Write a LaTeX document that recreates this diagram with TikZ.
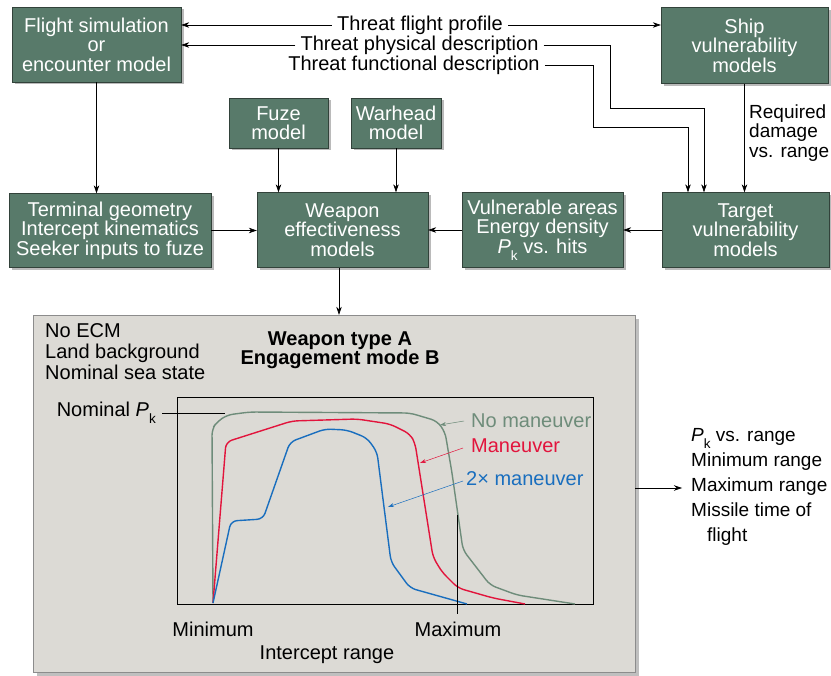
\documentclass[tikz,border=0pt]{standalone}
\usepackage{fontspec}
\setmainfont{Liberation Sans}
\usepackage{xcolor}
\usepackage{tikz}
\usetikzlibrary{shadows,arrows,arrows.meta,shapes,positioning}
\definecolor{boxgreen}{RGB}{88,122,106}
\definecolor{boxedge}{RGB}{50,66,58}
\definecolor{panelgray}{RGB}{220,218,213}
\definecolor{nomancol}{RGB}{110,140,122}
\definecolor{mancol}{RGB}{226,20,60}
\definecolor{twomancol}{RGB}{25,110,190}
\tikzset{
  model/.style={draw=boxedge, fill=boxgreen, text=white, align=center, inner sep=1pt,
    drop shadow={shadow xshift=2.5pt, shadow yshift=-2.5pt, opacity=0.45, fill=black!60}},
  panelbox/.style={draw=black!45, fill=panelgray, inner sep=0pt,
    drop shadow={shadow xshift=4pt, shadow yshift=-4pt, opacity=0.5, fill=black!50}},
  link/.style={-{Stealth[length=8pt,width=5.5pt]}, line width=0.6pt},
  thinlink/.style={-{Stealth[length=6pt,width=4pt]}, line width=0.5pt},
  curve/.style={line width=1.4pt, rounded corners=6pt}
}
\newcommand{\Pk}{\textit{P}\raisebox{-0.35em}{\fontsize{13.5}{13.5}\selectfont k}}

\begin{document}
\begin{tikzpicture}[
        x=1pt, y=-1pt,
        font=\fontsize{20}{19.5}\selectfont
    ]
        \useasboundingbox (0,0) rectangle (831,676);

        % Model boxes
        \node[model, minimum width=169pt, minimum height=75pt] (sim) at (96.5,44.5) {Flight simulation\\or\\encounter model};
        \node[model, minimum width=167pt, minimum height=76pt] (ship) at (744.5,45.5) {Ship\\vulnerability\\models};
        \node[model, minimum width=99pt, minimum height=50pt] (fuze) at (278.5,123) {Fuze\\model};
        \node[model, minimum width=90pt, minimum height=50pt] (warhead) at (396,123) {Warhead\\model};
        \node[model, minimum width=202pt, minimum height=74pt] (term) at (110,230.5) {Terminal geometry\\Intercept kinematics\\Seeker inputs to fuze};
        \node[model, minimum width=171pt, minimum height=75pt] (weapon) at (342.5,230) {Weapon\\effectiveness\\models};
        \node[model, minimum width=161pt, minimum height=75pt] (vuln) at (542.5,230) {Vulnerable areas\\Energy density\\\Pk{} vs. hits};
        \node[model, minimum width=167pt, minimum height=75pt] (target) at (745.5,230) {Target\\vulnerability\\models};

        % Threat inputs
        \node[inner sep=5pt] (flight) at (420,25) {Threat flight profile};
        \node[inner sep=5pt] (phys) at (419.5,45) {Threat physical description};
        \node[inner sep=5pt] (func) at (414,65) {Threat functional description};
        \node[align=left, anchor=west, inner sep=0pt, font=\fontsize{19}{19.5}\selectfont] (dmg) at (749,133) {Required\\damage\\vs. range};

        % Connect boxes
        \draw[link] (flight.west) -- (sim.east |- flight.west);
        \draw[link] (flight.east) -- (ship.west |- flight.east);
        \draw[link] (phys.west) -- (sim.east |- phys.west);
        \draw[link] (phys.east) -| (610,108) -| ([xshift=-41.5pt]target.north);
        \draw[link] (func.east) -| (593,127) -| ([xshift=-57.5pt]target.north);
        \draw[link] (ship.south) -- (ship.south |- target.north);
        \draw[link] (sim.south) -- (sim.south |- term.north);
        \draw[link] (fuze.south) -- (fuze.south |- weapon.north);
        \draw[link] (warhead.south) -- (warhead.south |- weapon.north);
        \draw[link] (term.east) -- (weapon.west |- term.east);
        \draw[link] (vuln.west) -- (weapon.east |- vuln.west);
        \draw[link] (target.west) -- (vuln.east |- target.west);

        % Result panel
        \node[panelbox, minimum width=602pt, minimum height=357pt] (panel) at (334,493.5) {};
        \draw[link] ([xshift=-3.5pt]weapon.south) -- ([xshift=-3.5pt]weapon.south |- panel.north);
        \node[align=left, anchor=north west, inner sep=0pt, font=\fontsize{20}{21}\selectfont] (cond) at (45,323) {No ECM\\Land background\\Nominal sea state};
        \node[align=center, font=\fontsize{20}{19.5}\selectfont\bfseries] (title) at (340,350) {Weapon type A\\Engagement mode B};

        % Pk curves
        \draw[line width=0.6pt] (177,397) rectangle (593,604);
        \draw[nomancol, curve] (213,603) -- (212,429) -- (217,422) -- (227,415) -- (250,412) -- (410,413) -- (437,421) -- (445,432) -- (452,473) -- (463,550) -- (490,585) -- (517,595) -- (575,604);
        \draw[mancol, curve] (213,603) -- (226,442) -- (292,421) -- (357,419) -- (390,424) -- (410,434) -- (415,443) -- (433,557) -- (442,572) -- (458,588) -- (493,598) -- (525,604);
        \draw[twomancol, curve] (213,603) -- (231,521) -- (263,519) -- (290,442) -- (325,429) -- (347,430) -- (367,438) -- (377,452) -- (391,562) -- (410,588) -- (467,604);
        \draw[line width=0.6pt] (457,515) -- (457,614);

        % Curve labels
        \node[anchor=west, inner sep=1pt, text=nomancol] (nomv) at (470,421) {No maneuver};
        \node[anchor=west, inner sep=1pt, text=mancol] (manv) at (470,446) {Maneuver};
        \node[anchor=west, inner sep=1pt, text=twomancol] (twomanv) at (465,479) {2× maneuver};
        \coordinate (nomvtip) at (440,425);
        \coordinate (manvtip) at (420,463);
        \coordinate (twomanvtip) at (388,507);
        \draw[thinlink, nomancol] ([xshift=-6pt]nomv.west) -- (nomvtip);
        \draw[thinlink, mancol] ([xshift=-7pt,yshift=-2pt]manv.west) -- (manvtip);
        \draw[thinlink, twomancol] ([xshift=-2pt,yshift=-2pt]twomanv.west) -- (twomanvtip);

        % Axis labels
        \node[anchor=east, inner sep=0pt] (nom) at (156,413) {Nominal \Pk};
        \coordinate (nomtip) at (225,413);
        \draw[line width=0.6pt] ([xshift=6pt]nom.east) -- (nomtip);
        \node (minl) at (213,629) {Minimum};
        \node (maxl) at (458,629) {Maximum};
        \node (xlab) at (327,655) {Intercept range};

        % Outputs
        \coordinate (out) at (682,488);
        \draw[link] (out -| panel.east) -- (out);
        \node[align=left, anchor=west, inner sep=0pt, font=\fontsize{19}{25}\selectfont] (res) at (691,487) {\Pk{} vs. range\\Minimum range\\Maximum range\\Missile time of\\\hspace{16pt}flight};
    \end{tikzpicture}
\end{document}
